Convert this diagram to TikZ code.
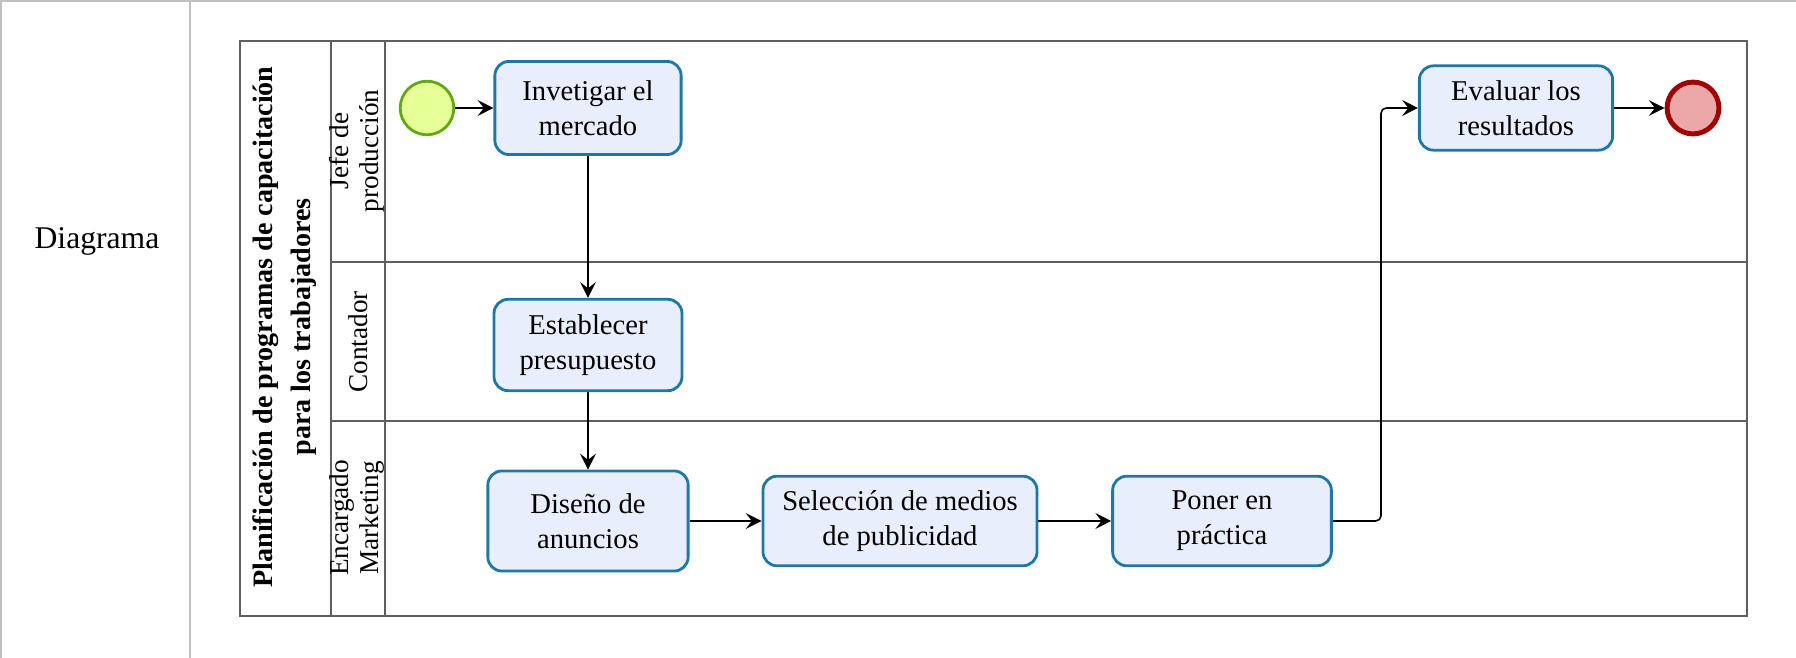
\documentclass[tikz,border=0pt]{standalone}
\usepackage{fontspec}
\setmainfont{Liberation Serif}
\usetikzlibrary{arrows.meta}
\definecolor{taskfill}{RGB}{232,238,252}
\definecolor{taskline}{RGB}{31,119,166}
\definecolor{startfill}{RGB}{230,255,151}
\definecolor{startline}{RGB}{98,167,22}
\definecolor{endfill}{RGB}{236,168,168}
\definecolor{endline}{RGB}{162,0,0}
\definecolor{poolline}{RGB}{95,95,95}
\definecolor{tableline}{RGB}{192,192,192}
\tikzset{
    task/.style={draw=taskline, fill=taskfill, line width=1.6pt,
                 rounded corners=8pt, align=center, inner sep=2pt,
                 font=\fontsize{16.3}{19.8}\selectfont},
    startev/.style={circle, draw=startline, fill=startfill,
                    line width=1.6pt, minimum size=30.5pt, inner sep=0pt},
    endev/.style={circle, draw=endline, fill=endfill,
                  line width=2.8pt, minimum size=29.5pt, inner sep=0pt},
    flow/.style={-{Stealth[length=9pt, width=9pt, inset=3.5pt]},
                 line width=0.9pt},
    lane/.style={draw=poolline, line width=1.1pt},
    lanelabel/.style={rotate=90, align=center,
                      font=\fontsize{15.5}{17}\selectfont},
    pooltitle/.style={rotate=90, align=center,
                      font=\fontsize{16}{21.6}\selectfont\bfseries},
    grid/.style={draw=tableline, line width=1.6pt},
}
\begin{document}
\begin{tikzpicture}[x=0.02cm, y=-0.02cm]
    \useasboundingbox (0,0) rectangle (1796,658);

    % outer table
    \draw[grid] (0,1) -- (1796,1);
    \draw[grid] (1,0) -- (1,658);
    \draw[grid] (190,0) -- (190,658);
    \node[font=\fontsize{18}{22}\selectfont] (rowlabel) at (97,241) {Diagrama};

    % pool and lanes
    \draw[lane] (240,41) rectangle (1747,616);
    \draw[lane] (331,41) -- (331,616);
    \draw[lane] (385,41) -- (385,616);
    \draw[lane] (331,262) -- (1747,262);
    \draw[lane] (331,421) -- (1747,421);
    \node[pooltitle] (title) at (285,327)
        {Planificación de programas de capacitación\\para los trabajadores};
    \node[lanelabel] (jefe) at (357,151) {Jefe de\\producción};
    \node[lanelabel] (contador) at (358,342) {Contador};
    \node[lanelabel] (marketing) at (357,518) {Encargado\\Marketing};

    % events and tasks
    \node[startev] (inicio) at (427,108) {};
    \node[task, minimum width=106pt, minimum height=53pt] (investigar)
        at (588,108) {Invetigar el\\mercado};
    \node[task, minimum width=107pt, minimum height=52pt] (presupuesto)
        at (588,345) {Establecer\\presupuesto};
    \node[task, minimum width=114pt, minimum height=57pt] (diseno)
        at (588,521) {Diseño de\\anuncios};
    \node[task, minimum width=156pt, minimum height=51pt] (seleccion)
        at (900,521) {Selección de medios\\de publicidad};
    \node[task, minimum width=124.5pt, minimum height=51pt] (poner)
        at (1222,521) {Poner en\\práctica};
    \node[task, minimum width=110pt, minimum height=48pt] (evaluar)
        at (1516,108) {Evaluar los\\resultados};
    \node[endev] (fin) at (1693,108) {};

    % sequence flows
    \draw[flow] (inicio) -- (investigar);
    \draw[flow] (investigar) -- (presupuesto);
    \draw[flow] (presupuesto) -- (diseno);
    \draw[flow] (diseno) -- (seleccion);
    \draw[flow] (seleccion) -- (poner);
    \coordinate (giro) at (1381,521);
    \draw[flow, rounded corners=3pt] (poner.east) -- (giro) |- (evaluar.west);
    \draw[flow] (evaluar) -- (fin);

\end{tikzpicture}
\end{document}
